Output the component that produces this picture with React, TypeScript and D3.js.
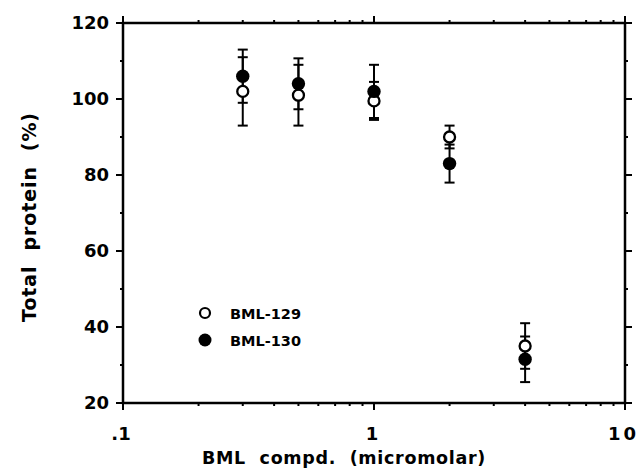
import React, { useEffect, useRef } from 'react'
import * as d3 from 'd3'

// concentrations (micromolar)
const doses = [0.3, 0.5, 1, 2, 4]

// BML-129 (open circles)
const bml129 = [102, 101, 99.5, 90, 35]
const bml129Err = [9, 8, 5, 3, 6]

// BML-130 (filled circles)
const bml130 = [106, 104, 102, 83, 31.5]
const bml130Err = [7, 6.7, 7, 5, 6]

const xMajor = [0.1, 1, 10]
const xMajorLabels = ['.1', '1', '10']
const yMajor = [20, 40, 60, 80, 100, 120]
const yMinor = [30, 50, 70, 90, 110]

const series = [
    { name: 'BML-129', values: bml129, err: bml129Err, filled: false },
    { name: 'BML-130', values: bml130, err: bml130Err, filled: true },
]

const W = 638, H = 470
const margin = { left: 123, right: 13, top: 23, bottom: 67 }
const FONT = '"DejaVu Sans", sans-serif'

export default function App() {
    const svgRef = useRef<SVGSVGElement>(null)

    useEffect(() => {
        const svg = d3.select(svgRef.current)
        svg.selectAll('*').remove()

        const x = d3.scaleLog().domain([0.1, 10]).range([margin.left, W - margin.right])
        const y = d3.scaleLinear().domain([20, 120]).range([H - margin.bottom, margin.top])

        const x0 = x.range()[0], x1 = x.range()[1]
        const y0 = y.range()[0], y1 = y.range()[1]

        const xMinor: number[] = []
        ;[0.1, 1].forEach(d => {
            for (let k = 2; k <= 9; k++) xMinor.push(d * k)
        })

        const g = svg.append('g').attr('stroke', '#000').attr('fill', 'none')

        // frame
        g.append('rect')
            .attr('x', x0).attr('y', y1)
            .attr('width', x1 - x0).attr('height', y0 - y1)
            .attr('stroke-width', 2.5)

        // x ticks, bottom and top, all outward
        const xt = (vals: number[], len: number) => {
            vals.forEach(v => {
                g.append('line').attr('x1', x(v)).attr('x2', x(v))
                    .attr('y1', y0).attr('y2', y0 + len).attr('stroke-width', 2)
                g.append('line').attr('x1', x(v)).attr('x2', x(v))
                    .attr('y1', y1).attr('y2', y1 - len).attr('stroke-width', 2)
            })
        }
        xt(xMajor, 7)
        xt(xMinor, 3)

        // y ticks, left and right, outward
        const yt = (vals: number[], len: number) => {
            vals.forEach(v => {
                g.append('line').attr('x1', x0).attr('x2', x0 - len)
                    .attr('y1', y(v)).attr('y2', y(v)).attr('stroke-width', 2)
                g.append('line').attr('x1', x1).attr('x2', x1 + len)
                    .attr('y1', y(v)).attr('y2', y(v)).attr('stroke-width', 2)
            })
        }
        yt(yMajor, 7)
        yt(yMinor, 3)

        const txt = svg.append('g').attr('font-family', FONT).attr('font-weight', 'bold').attr('fill', '#000')

        txt.selectAll('.ylab').data(yMajor).enter().append('text')
            .attr('x', x0 - 14).attr('y', d => y(d))
            .attr('dy', '0.36em')
            .attr('text-anchor', 'end')
            .attr('font-size', 18)
            .text(d => d)

        // x tick labels; the last one sits flush with the right edge
        txt.selectAll('.xlab').data(xMajor).enter().append('text')
            .attr('x', (d, i) => i === 2 ? W + 1 : x(d) - 2)
            .attr('y', y0 + 37)
            .attr('text-anchor', (d, i) => i === 2 ? 'end' : 'middle')
            .attr('font-size', 18)
            .attr('letter-spacing', (d, i) => i === 2 ? 3 : 0)
            .text((d, i) => xMajorLabels[i])

        txt.append('text')
            .attr('x', 344).attr('y', 464)
            .attr('text-anchor', 'middle')
            .attr('font-size', 17.5)
            .attr('letter-spacing', 0.7)
            .style('white-space', 'pre')
            .text('BML  compd.  (micromolar)')

        txt.append('text')
            .attr('transform', `translate(36, 217) rotate(-90)`)
            .attr('text-anchor', 'middle')
            .attr('font-size', 19)
            .attr('letter-spacing', 0.9)
            .style('white-space', 'pre')
            .text('Total  protein  (%)')

        // error bars then markers
        const plot = svg.append('g')
        series.forEach(s => {
            doses.forEach((d, i) => {
                const cx = x(d)
                const lo = y(s.values[i] - s.err[i]), hi = y(s.values[i] + s.err[i])
                plot.append('line').attr('x1', cx).attr('x2', cx).attr('y1', lo).attr('y2', hi)
                    .attr('stroke', '#000').attr('stroke-width', 2)
                ;[lo, hi].forEach(yy => {
                    plot.append('line').attr('x1', cx - 5).attr('x2', cx + 5).attr('y1', yy).attr('y2', yy)
                        .attr('stroke', '#000').attr('stroke-width', 2)
                })
            })
        })
        series.forEach(s => {
            plot.selectAll(null).data(doses).enter().append('circle')
                .attr('cx', d => x(d))
                .attr('cy', (d, i) => y(s.values[i]))
                .attr('r', s.filled ? 6.7 : 5.5)
                .attr('fill', s.filled ? '#000' : '#fff')
                .attr('stroke', '#000')
                .attr('stroke-width', s.filled ? 0 : 2.3)
        })

        // legend
        const leg = svg.append('g')
        series.forEach((s, i) => {
            const ly = 313 + i * 27
            leg.append('circle').attr('cx', 205).attr('cy', ly)
                .attr('r', s.filled ? 6.5 : 5)
                .attr('fill', s.filled ? '#000' : '#fff')
                .attr('stroke', '#000').attr('stroke-width', s.filled ? 0 : 2.2)
            leg.append('text').attr('x', 230).attr('y', ly).attr('dy', '0.38em')
                .attr('font-family', FONT).attr('font-weight', 'bold').attr('font-size', 14.5)
                .text(s.name)
        })
    }, [])

    return (
        <svg ref={svgRef} width={W} height={H}
             style={{ position: 'absolute', left: 0, top: 0, background: '#fff' }} />
    )
}
